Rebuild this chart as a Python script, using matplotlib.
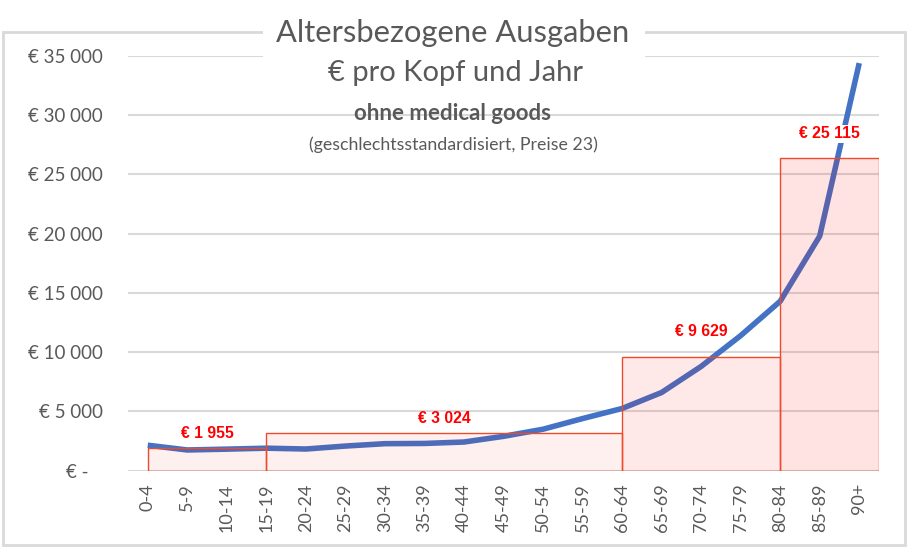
import matplotlib.pyplot as plt
from matplotlib.patches import Rectangle

plt.rcParams['font.family'] = ['Lato', 'DejaVu Sans']

# age groups and per-capita spending (line)
age_groups = ['0-4', '5-9', '10-14', '15-19', '20-24', '25-29', '30-34', '35-39',
              '40-44', '45-49', '50-54', '55-59', '60-64', '65-69', '70-74',
              '75-79', '80-84', '85-89', '90+']
spending = [2150, 1750, 1820, 1900, 1830, 2080, 2280, 2300, 2420, 2900, 3500,
            4400, 5250, 6600, 8800, 11400, 14300, 19800, 34400]

# averaged blocks: start index, end index, height, label
block_start = [0, 3, 12, 16]
block_end = [3, 12, 16, 18.5]
block_height = [1940, 3210, 9630, 26400]
block_labels = ['€ 1 955', '€ 3 024', '€ 9 629', '€ 25 115']

y_ticks = [0, 5000, 10000, 15000, 20000, 25000, 30000, 35000]

GRAY = '#595959'
W, H = 909, 547

fig = plt.figure(figsize=(W / 100, H / 100), dpi=100)
fig.patch.set_facecolor('white')

def fx(px):
    return px / W

def fy(py):
    return 1 - py / H

ax = fig.add_axes([fx(128), fy(470.7), fx(879 - 128), (470.7 - 56) / H])
ax.set_xlim(-0.5, len(age_groups) - 0.5)
ax.set_ylim(0, 35000)

x = list(range(len(age_groups)))
ax.plot(x, spending, color='#4472C4', lw=4, solid_capstyle='butt', zorder=2)

alphas = [0.06, 0.06, 0.09, 0.11]
offsets = [14, 14, 25, 24]
for i in range(len(block_start)):
    x0, x1, h = block_start[i], block_end[i], block_height[i]
    ax.add_patch(Rectangle((x0, 0), x1 - x0, h, facecolor=(1, 0, 0, alphas[i]),
                           edgecolor='#EE4B2B', lw=1.0, zorder=3))
    bbox = dict(facecolor='white', edgecolor='none', pad=1) if i == 3 else None
    ax.annotate(block_labels[i], ((x0 + x1) / 2, h), xytext=(0, offsets[i] * 0.72),
                textcoords='offset points', ha='center', va='center',
                fontsize=11.3, fontweight='bold', color='#FF0000',
                family=['Liberation Sans', 'DejaVu Sans'], bbox=bbox, zorder=4)

ax.set_xticks(x)
ax.set_xticklabels(age_groups, rotation=90, fontsize=13, color=GRAY)
ax.set_yticks(y_ticks)
ax.set_yticklabels([('€ -   ' if v == 0 else '€ ' + f'{v:,}'.replace(',', ' '))
                    for v in y_ticks], fontsize=13.5, color=GRAY)
ax.tick_params(axis='both', length=0)
ax.tick_params(axis='y', pad=18)
ax.tick_params(axis='x', pad=9)
ax.yaxis.grid(True, color='#D9D9D9', lw=1.5)
ax.set_axisbelow(True)
for s in ax.spines.values():
    s.set_visible(False)

# outer chart frame
fig.patches.append(Rectangle((fx(3), fy(545)), fx(902), (545 - 32) / H,
                             transform=fig.transFigure, fill=False,
                             edgecolor='#D9D9D9', lw=2, zorder=1))
# white box behind the title
fig.patches.append(Rectangle((fx(263), fy(98)), fx(645 - 263), (98 - 5) / H,
                             transform=fig.transFigure, facecolor='white',
                             edgecolor='none', zorder=2))

fig.text(fx(453), fy(42), 'Altersbezogene Ausgaben', ha='center', va='baseline',
         fontsize=22.2, color=GRAY, zorder=3)
fig.text(fx(455), fy(81), '€ pro Kopf und Jahr', ha='center', va='baseline',
         fontsize=21, color=GRAY, zorder=3)
fig.text(fx(453), fy(120), 'ohne medical goods', ha='center', va='baseline',
         fontsize=16, fontweight='bold', color=GRAY, zorder=3)
fig.text(fx(453), fy(150), '(geschlechtsstandardisiert, Preise 23)', ha='center',
         va='baseline', fontsize=12.8, color=GRAY, zorder=3)

fig.savefig('out.png', dpi=100)
